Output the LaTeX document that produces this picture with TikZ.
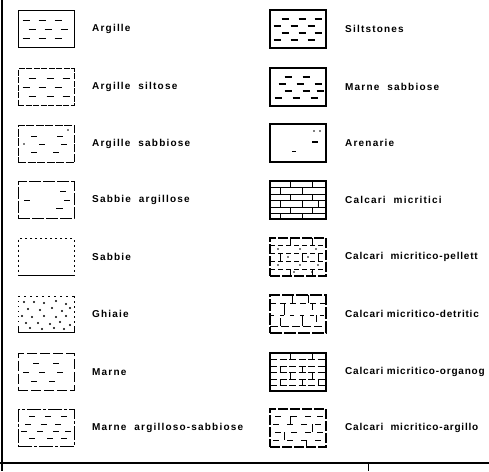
\documentclass[tikz,border=0pt]{standalone}
\usepackage{fontspec}
\newfontfamily\lblfont[LetterSpace=12]{Liberation Sans}
\newfontfamily\rlblfont[LetterSpace=8]{Liberation Sans}
\begin{document}
\begin{tikzpicture}[x=1pt,y=-1pt,
  lbl/.style={anchor=west,font=\lblfont\bfseries\fontsize{10}{12}\selectfont,inner sep=0pt},
  rlbl/.style={anchor=west,font=\rlblfont\bfseries\fontsize{10}{12}\selectfont,inner sep=0pt},
  sbox/.style={draw,line width=0.9pt,minimum width=56pt,minimum height=37pt,inner sep=0pt},
  rbox/.style={draw,line width=1.6pt,minimum width=56pt,minimum height=38pt,inner sep=0pt},
  dsh/.style={line width=0.9pt},
  tdsh/.style={line width=2pt},
  brk/.style={line width=0.9pt}]
\useasboundingbox (0,0) rectangle (489,471);
\clip (0,0) rectangle (489,471);
% frame lines
\coordinate (fl1) at (2,0); \coordinate (fl2) at (2,471);
\coordinate (fb1) at (0,463); \coordinate (fb2) at (489,463);
\coordinate (ft1) at (368,463); \coordinate (ft2) at (368,471);
\draw[line width=2pt] (fl1) -- (fl2);
\draw[line width=2.5pt] (fb1) -- (fb2);
\draw[line width=1pt] (ft1) -- (ft2);

% ---------- left column ----------
\node[sbox] (b1) at (46,29) {};
\begin{scope}[shift={(b1.center)}]
 \foreach \yy/\xs in {-9/{-20,-4,12},0/{-14,2,18},9/{-20,-4,12}}
   \foreach \xx in \xs \draw[dsh] (\xx-3.5,\yy) -- (\xx+3.5,\yy);
\end{scope}
\node[lbl] (t1) at (92,29) {Argille};

\node[sbox,dash pattern=on 6pt off 1.5pt] (b2) at (46,87) {};
\begin{scope}[shift={(b2.center)}]
 \foreach \yy/\xs in {-9/{-14,4,20},0/{-20,-4,12},9/{-14,4,20}}
   \foreach \xx in \xs \draw[dsh] (\xx-3.5,\yy) -- (\xx+3.5,\yy);
\end{scope}
\node[lbl] (t2) at (92,87) {Argille\ \ siltose};

\node[sbox,dash pattern=on 8pt off 1.5pt] (b3) at (46,144) {};
\begin{scope}[shift={(b3.center)}]
 \foreach \yy/\xs in {-8/{-12,14},0/{-4,18},8/{-12,10}}
   \foreach \xx in \xs \draw[dsh] (\xx-3,\yy) -- (\xx+3,\yy);
 \fill (-22,0) circle (0.8); \fill (22,-14) circle (0.8);
\end{scope}
\node[lbl] (t3) at (92,144) {Argille\ \ sabbiose};

\node[sbox,dash pattern=on 12pt off 2pt] (b4) at (46,200) {};
\begin{scope}[shift={(b4.center)}]
 \draw[dsh] (14,-9) -- (20,-9);
 \draw[dsh] (-22,0) -- (-16,0); \draw[dsh] (18,0) -- (24,0);
 \draw[dsh] (10,8) -- (17,8);
\end{scope}
\node[lbl] (t4) at (92,200) {Sabbie\ \ argillose};

\node[sbox,dash pattern=on 2pt off 3pt] (b5) at (46,257) {};
\coordinate (b5a) at (18,275.5); \coordinate (b5b) at (74,275.5);
\draw[line width=0.9pt] (b5a) -- (b5b);
\node[lbl] (t5) at (92,257) {Sabbie};

\node[sbox,draw=none] (b6) at (46,314) {};
\begin{scope}[shift={(b6.center)}]
 \draw[line width=0.9pt,dash pattern=on 2pt off 4pt] (-28,-18) -- (28,-18);
 \draw[line width=0.9pt] (-28,12) -- (-28,18.5) -- (28,18.5) -- (28,12);
 \draw[line width=0.9pt,dash pattern=on 2pt off 3pt] (28,-18) -- (28,12);
 \draw[line width=0.9pt,dash pattern=on 1pt off 4pt] (-28,-18) -- (-28,12);
 \foreach \px/\py in {-22/-12,-12/-12,-2/-11,10/-13,20/-10,
   -18/-5,-6/-4,6/-6,16/-3,24/-6,
   -24/2,-14/3,-2/2,10/3,20/2,
   -20/9,-8/9,4/10,14/8,24/11,
   -16/14,-4/15,8/14,18/15}
   \fill (\px,\py) circle (1.1);
\end{scope}
\node[lbl] (t6) at (92,314) {Ghiaie};

\node[sbox,dash pattern=on 10pt off 3pt] (b7) at (46,372) {};
\begin{scope}[shift={(b7.center)}]
 \foreach \yy/\xs in {-9/{-10,10},0/{-20,-4,14},9/{-12,6}}
   \foreach \xx in \xs \draw[dsh] (\xx-3,\yy) -- (\xx+3,\yy);
\end{scope}
\node[lbl] (t7) at (92,372) {Marne};

\node[sbox,dash pattern=on 14pt off 2pt on 3pt off 2pt] (b8) at (46,428) {};
\begin{scope}[shift={(b8.center)}]
 \foreach \yy/\xs in {-12/{-14,2,18},-4/{-18,-2,12},3/{-22,-6,10,22},10/{-14,4,18}}
   \foreach \xx in \xs \draw[dsh] (\xx-3,\yy) -- (\xx+3,\yy);
\end{scope}
\node[lbl] (t8) at (92,428) {Marne\ \ argilloso-sabbiose};

% ---------- right column ----------
\node[rbox] (c1) at (298,29) {};
\begin{scope}[shift={(c1.center)}]
 \foreach \yy/\xs in {-10/{-13,4,20},-3/{-21,-4,13},4/{-13,4,20},11/{-21,-4,13}}
   \foreach \xx in \xs \draw[tdsh] (\xx-3.5,\yy) -- (\xx+3.5,\yy);
\end{scope}
\node[lbl] (u1) at (345,29) {Siltstones};

\node[rbox] (c2) at (298,87) {};
\begin{scope}[shift={(c2.center)}]
 \foreach \yy/\xs in {-10/{-10,8},-3/{-16,2,20},4/{-10,8,22},11/{-20,-2,16}}
   \foreach \xx in \xs \draw[tdsh] (\xx-3.5,\yy) -- (\xx+3.5,\yy);
\end{scope}
\node[lbl] (u2) at (345,87) {Marne\ \ sabbiose};

\node[rbox] (c3) at (298,143) {};
\begin{scope}[shift={(c3.center)}]
 \fill (16,-12) circle (0.8); \fill (22,-12) circle (0.8);
 \draw[line width=1.4pt] (14,-1) -- (20,-1);
 \draw[line width=1pt] (-6,8) -- (-2,8);
\end{scope}
\node[lbl] (u3) at (345,143) {Arenarie};

\node[rbox] (c4) at (298,200) {};
\begin{scope}[shift={(c4.center)}]
 \foreach \yy in {-12.5,-6,0.5,7,13} \draw[brk] (-28,\yy) -- (28,\yy);
 \foreach \ya/\yb/\xs in {-19/-12.5/{-8,14},-12.5/-6/{-18,4},-6/0.5/{-8,14},0.5/7/{-18,4,20},7/13/{-8,14},13/19/{-18,4}}
   \foreach \xx in \xs \draw[brk] (\xx,\ya) -- (\xx,\yb);
\end{scope}
\node[lbl] (u4) at (345,200) {Calcari\ \ micritici};

\node[rbox,line width=1.2pt,dash pattern=on 10pt off 2pt] (c5) at (298,257) {};
\begin{scope}[shift={(c5.center)}]
 \foreach \yy in {-12,-4,4,12} \draw[brk,dash pattern=on 5pt off 3pt] (-28,\yy) -- (28,\yy);
 \foreach \ya/\yb/\xs in {-19/-12/{-8,14},-4/4/{-18,4,20},12/19/{-8,14}}
   \foreach \xx in \xs \draw[brk] (\xx,\ya) -- (\xx,\yb);
 \foreach \px/\py in {-20/-8,2/-8,18/-8,-10/0,10/0,-20/8,2/8,20/8,-4/15,14/15}
   \fill (\px,\py) circle (0.8);
\end{scope}
\node[rlbl] (u5) at (345,257) {Calcari\ \ micritico-pellett};

\node[rbox,line width=1.2pt,dash pattern=on 12pt off 2pt] (c6) at (298,314) {};
\begin{scope}[shift={(c6.center)}]
 \draw[brk,dash pattern=on 6pt off 4pt] (-28,-11) -- (28,-11);
 \draw[brk,dash pattern=on 4pt off 6pt] (-28,1) -- (28,1);
 \draw[brk,dash pattern=on 8pt off 3pt] (-28,12) -- (28,12);
 \foreach \xx/\ya/\yb in {-6/-19/-11,10/-19/-11,-14/-11/1,14/-11/-4,4/1/12,18/1/8,-18/4/12}
   \draw[brk] (\xx,\ya) -- (\xx,\yb);
\end{scope}
\node[rlbl] (u6) at (345,314) {Calcari micritico-detritic};

\node[rbox,line width=1.2pt] (c7) at (298,372) {};
\begin{scope}[shift={(c7.center)}]
 \foreach \yy in {-12.5,-6,0.5,7,13} \draw[brk,dash pattern=on 7pt off 2.5pt] (-28,\yy) -- (28,\yy);
 \foreach \ya/\yb/\xs in {-19/-12.5/{-8,14},-6/0.5/{-18,4},0.5/7/{-8,14},7/13/{-18,4,20}}
   \foreach \xx in \xs \draw[brk] (\xx,\ya) -- (\xx,\yb);
\end{scope}
\node[rlbl] (u7) at (345,372) {Calcari micritico-organog};

\node[rbox,line width=1.2pt,dash pattern=on 10pt off 2pt] (c8) at (298,428) {};
\begin{scope}[shift={(c8.center)}]
 \foreach \yy/\xs in {-12/{-20,-4,10,22},-4/{-22,-8,6,20},4/{-20,-4,10,22},12/{-22,-8,6,20}}
   \foreach \xx in \xs \draw[dsh] (\xx-3,\yy) -- (\xx+3,\yy);
 \foreach \xx/\ya/\yb in {-8/-12/-4,14/-4/4,-14/4/12,8/12/19}
   \draw[brk] (\xx,\ya) -- (\xx,\yb);
\end{scope}
\node[rlbl] (u8) at (345,428) {Calcari\ \ micritico-argillo};
\end{tikzpicture}
\end{document}
